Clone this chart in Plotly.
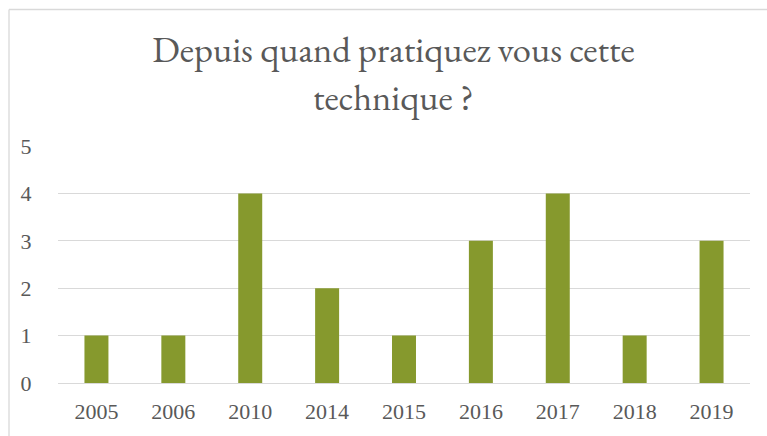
import plotly.graph_objects as go

years = ["2005", "2006", "2010", "2014", "2015", "2016", "2017", "2018", "2019"]
counts = [1, 1, 4, 2, 1, 3, 4, 1, 3]
y_ticks = [0, 1, 2, 3, 4, 5]

title_text = "Depuis quand pratiquez vous cette<br>technique ?"

W, H = 767, 436
L, R, T, B = 58, 17, 146, 53
pw, ph = W - L - R, H - T - B

fig = go.Figure(go.Bar(x=years, y=counts, marker_color="#86992D", marker_line_width=0))

font_fam = "EB Garamond, Garamond, Liberation Serif, serif"
tick_fam = "Liberation Serif, serif"
fig.update_layout(
    width=W, height=H,
    margin=dict(l=L, r=R, t=T, b=B),
    paper_bgcolor="white", plot_bgcolor="white",
    bargap=0.688,
    showlegend=False,
    title=dict(text=title_text, x=0.513, xanchor="center", y=0.857, yanchor="middle",
               font=dict(family=font_fam, size=36.5, color="#595959")),
    font=dict(family=font_fam, color="#595959", size=22),
    xaxis=dict(showgrid=False, showline=False, zeroline=False, ticks="outside", ticklen=9,
               automargin=False,
               tickcolor="rgba(0,0,0,0)", tickfont=dict(family=tick_fam, size=22, color="#595959")),
    yaxis=dict(range=[0, 5], tickvals=y_ticks, showgrid=True, gridcolor="#D9D9D9", gridwidth=1,
               zeroline=True, zerolinecolor="#D9D9D9", zerolinewidth=1, showline=False,
               automargin=False,
               ticks="outside", ticklen=21, tickcolor="rgba(0,0,0,0)",
               tickfont=dict(family=tick_fam, size=22, color="#595959")),
)

# chart frame (left and top edges visible in window)
x0 = (9 - L) / pw
y1 = (H - B - 9.5) / ph
fig.add_shape(type="line", xref="paper", yref="paper", x0=x0, x1=x0, y0=y1, y1=-0.5,
              line=dict(color="#D9D9D9", width=1.3))
fig.add_shape(type="line", xref="paper", yref="paper", x0=x0, x1=1.5, y0=y1, y1=y1,
              line=dict(color="#D9D9D9", width=1.3))

post = "document.body.style.margin = '0px';"

fig.write_html("out.html", post_script=post, config={"displayModeBar": False})
